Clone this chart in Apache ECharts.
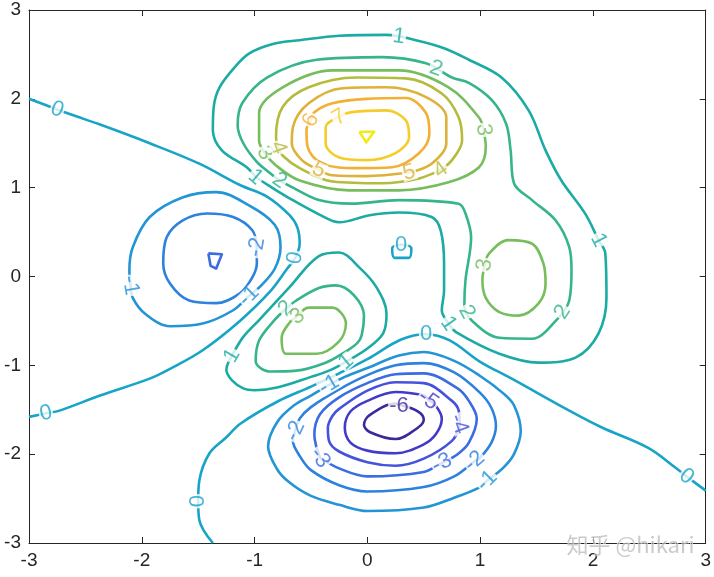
<!DOCTYPE html>
<html><head><meta charset="utf-8">
<script src="https://cdn.jsdelivr.net/npm/echarts/dist/echarts.min.js"></script>
<style>html,body{margin:0;padding:0;background:#fff}#c{width:714px;height:577px}</style>
</head><body><div id="c"></div>
<script>
// ---- axis ticks ----
const xTicks = [-3,-2,-1,0,1,2,3];
const yTicks = [-3,-2,-1,0,1,2,3];
// ---- contour levels ----
const levels = [-6,-5,-4,-3,-2,-1,0,1,2,3,4,5,6,7,8];

// ---- contour polylines (data units) ----
const c8_peak = [[-0.07,1.63],[0.06,1.63],[-0.01,1.51],[-0.07,1.63]];
const c7_peak = [[-0.25,1.80],[-0.14,1.85],[0.17,1.87],[0.34,1.76],[0.37,1.57],[0.25,1.39],[-0.01,1.31],[-0.25,1.34],[-0.37,1.50],[-0.37,1.68],[-0.25,1.80]];
const c6_peak = [[-0.50,1.76],[-0.47,1.85],[-0.31,1.95],[-0.01,2.0],[0.34,2.01],[0.52,1.84],[0.55,1.61],[0.46,1.39],[0.22,1.23],[-0.10,1.22],[-0.40,1.27],[-0.53,1.46],[-0.54,1.65],[-0.50,1.76]];
const c5_peak = [[0.37,1.17],[0.57,1.27],[0.70,1.50],[0.70,1.79],[0.52,2.02],[0.17,2.13],[-0.22,2.12],[-0.52,1.95],[-0.66,1.68],[-0.67,1.50],[-0.58,1.31],[-0.43,1.20],[-0.31,1.14],[-0.01,1.13],[0.37,1.17]];
const c4_peak = [[0.65,1.20],[0.75,1.31],[0.84,1.53],[0.81,1.79],[0.66,2.06],[0.34,2.23],[-0.10,2.24],[-0.52,2.13],[-0.75,1.91],[-0.81,1.57],[-0.79,1.45],[-0.75,1.36],[-0.60,1.22],[-0.31,1.07],[0.13,1.05],[0.45,1.10],[0.65,1.20]];
const c3_peak = [[1.03,1.65],[1.05,1.46],[0.99,1.23],[0.72,1.06],[0.28,0.97],[-0.16,0.97],[-0.60,1.08],[-0.81,1.25],[-0.91,1.39],[-0.96,1.53],[-0.96,1.84],[-0.75,2.13],[-0.31,2.32],[0.28,2.32],[0.72,2.13],[0.99,1.79],[1.03,1.65]];
const c3_right = [[1.04,0.13],[1.08,0.26],[1.25,0.41],[1.46,0.37],[1.56,0.15],[1.58,-0.08],[1.52,-0.30],[1.34,-0.44],[1.17,-0.40],[1.05,-0.24],[1.02,-0.04],[1.04,0.13]];
const c3_center = [[-0.62,-0.45],[-0.52,-0.35],[-0.31,-0.35],[-0.19,-0.53],[-0.25,-0.73],[-0.45,-0.87],[-0.72,-0.87],[-0.76,-0.69],[-0.69,-0.52],[-0.62,-0.45]];
const c2_outer = [[-0.78,1.08],[-0.69,1.02],[-0.43,0.86],[-0.14,0.82],[0.28,0.86],[0.81,0.82],[0.87,0.71],[0.92,0.44],[0.87,-0.04],[0.86,-0.33],[0.93,-0.50],[1.17,-0.69],[1.46,-0.70],[1.67,-0.50],[1.79,-0.27],[1.81,0.07],[1.79,0.33],[1.67,0.63],[1.46,0.86],[1.30,1.05],[1.27,1.42],[1.23,1.72],[1.10,1.99],[0.90,2.18],[0.75,2.24],[0.52,2.40],[0.13,2.47],[-0.45,2.44],[-0.89,2.24],[-1.11,1.95],[-1.15,1.70],[-1.10,1.50],[-0.98,1.29],[-0.87,1.17],[-0.78,1.08]];
const c2_center = [[-0.72,-0.36],[-0.63,-0.27],[-0.43,-0.13],[-0.28,-0.10],[-0.12,-0.21],[-0.03,-0.44],[-0.05,-0.66],[-0.09,-0.75],[-0.21,-0.86],[-0.37,-0.97],[-0.63,-1.06],[-0.87,-1.07],[-0.99,-0.95],[-0.96,-0.72],[-0.83,-0.50],[-0.72,-0.36]];
const c1_outer = [[-0.99,1.12],[-1.07,1.23],[-1.29,1.42],[-1.37,1.65],[-1.36,1.93],[-1.31,2.13],[-1.18,2.35],[-1.05,2.51],[-0.83,2.62],[-0.60,2.66],[-0.25,2.71],[0.17,2.72],[0.43,2.66],[0.68,2.57],[0.90,2.44],[1.19,2.24],[1.43,1.87],[1.58,1.42],[1.72,1.08],[1.93,0.71],[2.05,0.41],[2.11,0.26],[2.12,-0.24],[2.05,-0.64],[1.85,-0.91],[1.52,-0.97],[1.17,-0.87],[0.79,-0.63],[0.72,-0.53],[0.66,-0.38],[0.68,-0.16],[0.68,0.15],[0.65,0.52],[0.57,0.67],[0.28,0.72],[0.02,0.69],[-0.25,0.61],[-0.43,0.70],[-0.69,0.88],[-0.87,1.02],[-0.99,1.12]];
const c1_center = [[-1.20,-0.89],[-1.10,-0.68],[-0.96,-0.49],[-0.69,-0.12],[-0.43,0.23],[-0.25,0.27],[-0.07,0.10],[0.08,-0.12],[0.17,-0.42],[0.14,-0.64],[0.0,-0.81],[-0.19,-0.96],[-0.34,-1.06],[-0.50,-1.13],[-0.80,-1.25],[-1.00,-1.28],[-1.10,-1.26],[-1.20,-1.17],[-1.25,-1.05],[-1.20,-0.89]];
const c0_left = [[-3.0,2.0],[-2.75,1.88],[-2.62,1.82],[-2.37,1.71],[-1.93,1.50],[-1.49,1.27],[-1.13,1.03],[-0.89,0.90],[-0.69,0.69],[-0.62,0.55],[-0.60,0.37],[-0.64,0.21],[-0.71,0.09],[-0.87,-0.18],[-1.13,-0.50],[-1.46,-0.83],[-1.75,-1.04],[-1.93,-1.15],[-2.37,-1.34],[-2.73,-1.51],[-2.85,-1.54],[-3.0,-1.58]];
const c0_bottom = [[-1.37,-3.0],[-1.49,-2.74],[-1.50,-2.53],[-1.49,-2.30],[-1.40,-1.99],[-1.25,-1.81],[-1.13,-1.66],[-0.80,-1.41],[-0.50,-1.24],[-0.25,-1.09],[0.0,-0.93],[0.30,-0.71],[0.52,-0.65],[0.73,-0.72],[1.0,-0.96],[1.28,-1.15],[1.79,-1.51],[2.08,-1.70],[2.49,-1.93],[2.73,-2.15],[2.83,-2.25],[3.0,-2.41]];
const c0_small = [[0.30,0.36],[0.22,0.32],[0.24,0.21],[0.37,0.21],[0.39,0.32],[0.30,0.36]];
const cm1_left = [[-2.10,-0.10],[-2.11,0.07],[-2.08,0.33],[-1.93,0.67],[-1.64,0.89],[-1.34,0.95],[-1.05,0.80],[-0.82,0.58],[-0.77,0.33],[-0.82,0.09],[-0.94,-0.10],[-1.05,-0.22],[-1.19,-0.38],[-1.46,-0.53],[-1.75,-0.56],[-1.97,-0.42],[-2.08,-0.24],[-2.10,-0.10]];
const cm2_left = [[-0.98,0.33],[-1.02,0.52],[-1.19,0.67],[-1.42,0.71],[-1.64,0.63],[-1.78,0.44],[-1.81,0.15],[-1.75,-0.08],[-1.58,-0.27],[-1.34,-0.30],[-1.13,-0.19],[-1.02,-0.01],[-0.98,0.15],[-0.98,0.33]];
const cm3_left = [[-1.41,0.26],[-1.29,0.25],[-1.34,0.09],[-1.39,0.12],[-1.41,0.26]];
const cm1_bottom = [[-0.34,-1.22],[-0.20,-1.13],[0.0,-1.03],[0.28,-0.89],[0.50,-0.85],[0.77,-0.95],[1.0,-1.12],[1.20,-1.31],[1.30,-1.45],[1.36,-1.74],[1.30,-2.0],[1.20,-2.16],[1.06,-2.30],[1.0,-2.37],[0.77,-2.49],[0.50,-2.60],[0.0,-2.64],[-0.25,-2.57],[-0.50,-2.47],[-0.69,-2.32],[-0.80,-2.17],[-0.88,-1.91],[-0.80,-1.64],[-0.65,-1.45],[-0.50,-1.34],[-0.34,-1.22]];
const cm2_bottom = [[-0.64,-1.74],[-0.60,-1.60],[-0.50,-1.47],[-0.25,-1.27],[0.0,-1.11],[0.25,-1.00],[0.50,-0.975],[0.77,-1.08],[1.0,-1.31],[1.10,-1.48],[1.14,-1.68],[1.10,-1.87],[1.0,-2.04],[0.95,-2.08],[0.77,-2.25],[0.50,-2.37],[0.0,-2.42],[-0.25,-2.35],[-0.50,-2.18],[-0.60,-2.02],[-0.66,-1.85],[-0.64,-1.74]];
const cm3_bottom = [[-0.42,-2.04],[-0.47,-1.78],[-0.42,-1.55],[-0.25,-1.36],[0.0,-1.20],[0.25,-1.10],[0.50,-1.09],[0.80,-1.26],[0.90,-1.40],[0.97,-1.60],[0.90,-1.87],[0.80,-2.0],[0.66,-2.10],[0.50,-2.20],[0.0,-2.25],[-0.25,-2.16],[-0.42,-2.04]];
const cm4_bottom = [[0.82,-1.68],[0.75,-1.85],[0.50,-2.05],[0.25,-2.13],[0.0,-2.09],[-0.25,-1.97],[-0.34,-1.85],[-0.35,-1.70],[-0.31,-1.57],[-0.25,-1.49],[0.0,-1.285],[0.25,-1.19],[0.50,-1.20],[0.75,-1.40],[0.81,-1.51],[0.82,-1.68]];
const cm5_bottom = [[0.54,-1.39],[0.61,-1.46],[0.66,-1.60],[0.61,-1.77],[0.50,-1.89],[0.25,-1.99],[0.0,-1.96],[-0.15,-1.87],[-0.20,-1.70],[-0.15,-1.52],[0.0,-1.40],[0.25,-1.30],[0.50,-1.34],[0.54,-1.39]];
const cm6_bottom = [[0.30,-1.45],[0.45,-1.52],[0.50,-1.61],[0.45,-1.70],[0.25,-1.83],[0.02,-1.75],[-0.03,-1.67],[0.02,-1.56],[0.25,-1.43],[0.30,-1.45]];

// ---- inline contour labels: [x, y, text, rotation] ----
const contourLabels = [
 [0.28,2.70,'1',-8],[0.61,2.34,'2',-20],[1.03,1.65,'3',-85],
 [-0.25,1.79,'7',30],[-0.50,1.76,'6',65],[-0.43,1.20,'5',-25],[0.37,1.17,'5',15],[0.65,1.20,'4',35],
 [-0.91,1.39,'3',-60],[-0.79,1.45,'4',-70],[-0.99,1.12,'1',-40],[-0.78,1.08,'2',-35],
 [-0.98,0.33,'-2',80],[-2.10,-0.10,'-1',-80],[-1.05,-0.22,'-1',45],
 [-2.75,1.88,'0',-21],[-0.64,0.21,'0',80],[-2.85,-1.54,'0',12],[-1.50,-2.53,'0',90],[2.83,-2.25,'0',-38],[0.52,-0.65,'0',0],[0.30,0.36,'0',0],
 [2.05,0.41,'1',-63],[0.72,-0.53,'1',-55],[0.88,-0.40,'2',-62],[1.73,-0.40,'2',57],[1.04,0.13,'3',80],
 [-0.72,-0.36,'2',45],[-0.62,-0.45,'3',35],[-1.20,-0.89,'1',60],[-0.19,-0.96,'1',40],
 [-0.34,-1.22,'-1',30],[-0.64,-1.74,'-2',65],[-0.42,-2.04,'-3',-55],[0.28,-1.46,'-6',0],[0.54,-1.39,'-5',-35],[0.81,-1.66,'-4',-70],[0.66,-2.10,'-3',25],[0.95,-2.08,'-2',40],[1.06,-2.30,'-1',45]
];

// ---- styles ----
const levelColors = ['#3a2a9c','#433bc8','#4552dc','#3a6ce2','#2d82de','#2394d6','#18a4c6','#1caba4','#36b48c','#76bd5e','#b5bb3c','#dcb23a','#f2b035','#f5cc2a','#f2ea1c'];
const colorOf = v => levelColors[levels.indexOf(v)];

const contourSet = [
 [8,c8_peak,false],[7,c7_peak,true],[6,c6_peak,true],[5,c5_peak,true],[4,c4_peak,true],[3,c3_peak,true],
 [3,c3_right,true],[3,c3_center,true],[2,c2_outer,true],[2,c2_center,true],[1,c1_outer,true],[1,c1_center,true],
 [0,c0_left,true],[0,c0_bottom,true],[0,c0_small,true],
 [-1,cm1_left,true],[-2,cm2_left,true],[-3,cm3_left,false],
 [-1,cm1_bottom,true],[-2,cm2_bottom,true],[-3,cm3_bottom,true],[-4,cm4_bottom,true],[-5,cm5_bottom,true],[-6,cm6_bottom,true]
];

const series = contourSet.map(([lv,pts,sm]) => ({
  type:'line', data:pts, showSymbol:false, symbol:'none', smooth: sm ? 0.35 : false,
  lineStyle:{color:colorOf(lv), width:2.6, join:'round'}, silent:true, z:2, animation:false
}));
series.push({
  type:'scatter', symbolSize:1, itemStyle:{color:'rgba(0,0,0,0)'}, silent:true, z:10, animation:false,
  data: contourLabels.map(([x,y,t,r]) => ({value:[x,y], label:{show:true, formatter:t, rotate:r, color:colorOf(+t)}})),
  label:{position:'inside', fontSize:22, fontFamily:'Liberation Sans, Arial, sans-serif', backgroundColor:'#ffffff', padding:[0,1], lineHeight:16}
});

const axisCommon = {
  type:'value', splitLine:{show:false},
  axisLine:{show:true, onZero:false, lineStyle:{color:'#262626', width:1}},
  axisTick:{show:true, inside:true, length:6, lineStyle:{color:'#262626', width:1}}
};
const lbl = {fontSize:19, color:'#262626', fontFamily:'Liberation Sans, Arial, sans-serif', margin:8};

const chart = echarts.init(document.getElementById('c'), null, {renderer:'canvas'});
chart.setOption({
  animation:false,
  backgroundColor:'#ffffff',
  grid:{left:29, right:8, top:10, bottom:34},
  xAxis:[
    Object.assign({}, axisCommon, {position:'bottom', min:xTicks[0], max:xTicks[xTicks.length-1], interval:xTicks[1]-xTicks[0], axisLabel:lbl}),
    Object.assign({}, axisCommon, {position:'top', min:xTicks[0], max:xTicks[xTicks.length-1], interval:xTicks[1]-xTicks[0], axisLabel:{show:false}})
  ],
  yAxis:[
    Object.assign({}, axisCommon, {position:'left', min:yTicks[0], max:yTicks[yTicks.length-1], interval:yTicks[1]-yTicks[0], axisLabel:lbl}),
    Object.assign({}, axisCommon, {position:'right', min:yTicks[0], max:yTicks[yTicks.length-1], interval:yTicks[1]-yTicks[0], axisLabel:{show:false}})
  ],
  series: series,
  graphic:[{type:'text', left:566, top:533, z:100, silent:true,
    style:{text:'知乎 @hikari', font:'22px "Noto Sans CJK SC", sans-serif', fill:'rgba(160,160,160,0.55)', stroke:'rgba(255,255,255,0.7)', lineWidth:1}}]
});
</script>
</body></html>
